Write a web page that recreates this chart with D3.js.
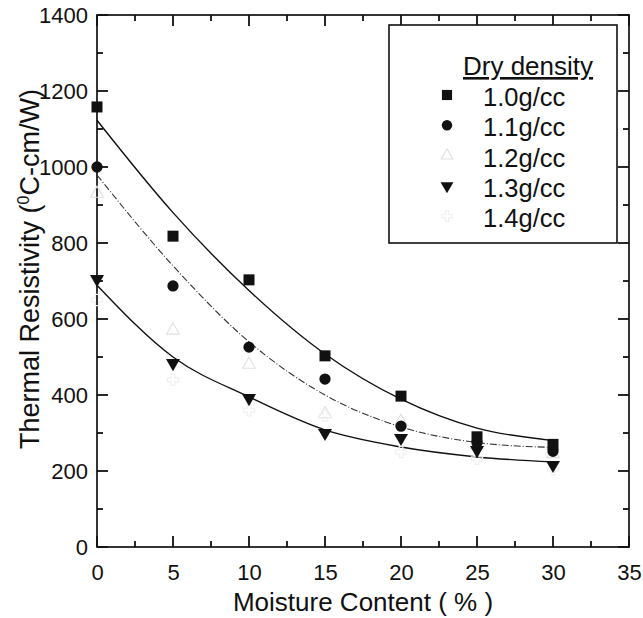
<!DOCTYPE html>
<html>
<head>
<meta charset="utf-8">
<script src="https://cdn.jsdelivr.net/npm/d3@7"></script>
<style>
  body { margin: 0; background: #fff; }
  svg { display: block; font-family: "Liberation Sans", Arial, sans-serif; }
</style>
</head>
<body>
<div id="chart"></div>
<script>
// moisture content (%) where samples were measured
const moisture = [0, 5, 10, 15, 20, 25, 30];

// measured thermal resistivity (degC-cm/W) per dry density
const rho10 = [1158, 818, 703, 503, 397, 290, 270];
const rho11 = [1000, 687, 526, 442, 318, 275, 252];
const rho12 = [930, 570, 480, 350, 330, 268, 245];
const rho13 = [705, 484, 392, 300, 287, 255, 216];
const rho14 = [650, 440, 360, 345, 250, 232, 205];

// fitted curves at the same moisture values
const fit10 = [1123, 880, 675, 508, 389, 313, 280];
const fit11 = [979, 740, 540, 400, 316, 275, 262];
const fit13 = [689, 500, 395, 308, 263, 237, 224];

const densityLabels = ['1.0g/cc', '1.1g/cc', '1.2g/cc', '1.3g/cc', '1.4g/cc'];
const xTicks = [0, 5, 10, 15, 20, 25, 30, 35];
const xMinor = [2.5, 7.5, 12.5, 17.5, 22.5, 27.5, 32.5];
const yTicks = [0, 200, 400, 600, 800, 1000, 1200, 1400];
const yMinor = [100, 300, 500, 700, 900, 1100, 1300];

const width = 643, height = 618;
const margin = { top: 15, right: 14, bottom: 71, left: 97 };
const innerW = width - margin.left - margin.right;
const innerH = height - margin.top - margin.bottom;

const svg = d3.select('#chart').append('svg')
    .attr('width', width)
    .attr('height', height);

const plot = svg.append('g')
    .attr('transform', `translate(${margin.left},${margin.top})`);

const x = d3.scaleLinear().domain([0, 35]).range([0, innerW]);
const y = d3.scaleLinear().domain([0, 1400]).range([innerH, 0]);

// frame
plot.append('rect')
    .attr('width', innerW).attr('height', innerH)
    .attr('fill', 'none').attr('stroke', '#111').attr('stroke-width', 1.7);

// tick labels through d3 axes (tick lines are drawn below)
plot.append('g').attr('transform', `translate(0,${innerH})`)
    .call(d3.axisBottom(x).tickValues(xTicks).tickSize(0).tickPadding(17))
    .call(g => g.select('.domain').remove())
    .call(g => g.selectAll('text').attr('fill', '#111').style('font-size', '22px'));
plot.append('g')
    .call(d3.axisLeft(y).tickValues(yTicks).tickSize(0).tickPadding(9).tickFormat(d3.format('d')))
    .call(g => g.select('.domain').remove())
    .call(g => g.selectAll('text').attr('fill', '#111').style('font-size', '22px'));

// inward ticks on all four sides
const ticks = plot.append('g').attr('stroke', '#111').attr('stroke-width', 1.8);
function xTickLines(vals, len) {
    ticks.append('g').selectAll('line').data(vals).enter().append('line')
        .attr('x1', d => x(d)).attr('x2', d => x(d))
        .attr('y1', innerH).attr('y2', innerH - len);
    ticks.append('g').selectAll('line').data(vals).enter().append('line')
        .attr('x1', d => x(d)).attr('x2', d => x(d))
        .attr('y1', 0).attr('y2', len);
}
function yTickLines(vals, len) {
    ticks.append('g').selectAll('line').data(vals).enter().append('line')
        .attr('y1', d => y(d)).attr('y2', d => y(d))
        .attr('x1', 0).attr('x2', len);
    ticks.append('g').selectAll('line').data(vals).enter().append('line')
        .attr('y1', d => y(d)).attr('y2', d => y(d))
        .attr('x1', innerW).attr('x2', innerW - len);
}
xTickLines(xTicks, 11);
xTickLines(xMinor, 6);
yTickLines(yTicks, 11);
yTickLines(yMinor, 6);

// fitted curves
const line = d3.line()
    .x((d, i) => x(moisture[i]))
    .y(d => y(d))
    .curve(d3.curveMonotoneX);

const fits = [
    { values: fit10, dash: null, color: '#111', w: 1.4 },
    { values: fit11, dash: '7,2,1,2', color: '#333', w: 1.1 },
    { values: fit13, dash: null, color: '#111', w: 1.4 }
];
plot.selectAll('.fit').data(fits).enter().append('path')
    .attr('class', 'fit')
    .attr('fill', 'none')
    .attr('stroke', d => d.color)
    .attr('stroke-width', d => d.w)
    .attr('stroke-dasharray', d => d.dash)
    .attr('d', d => line(d.values));

// series definitions (marker style only)
const series = [
    { label: densityLabels[0], values: rho10, sym: d3.symbolSquare, size: 121, rot: 0, fill: '#111', stroke: 'none' },
    { label: densityLabels[1], values: rho11, sym: d3.symbolCircle, size: 100, rot: 0, fill: '#111', stroke: 'none' },
    { label: densityLabels[2], values: rho12, sym: d3.symbolTriangle, size: 70, rot: 0, fill: 'none', stroke: '#e2e2e2' },
    { label: densityLabels[3], values: rho13, sym: d3.symbolTriangle, size: 85, rot: 180, fill: '#111', stroke: 'none' },
    { label: densityLabels[4], values: rho14, sym: d3.symbolCross, size: 70, rot: 0, fill: 'none', stroke: '#f0f0f0' }
];

// faint ones first so black ones sit on top
const drawOrder = [series[2], series[4], series[3], series[1], series[0]];
drawOrder.forEach(s => {
    plot.append('g').selectAll('path')
        .data(s.values)
        .enter().append('path')
        .attr('d', d3.symbol().type(s.sym).size(s.size))
        .attr('transform', (d, i) => `translate(${x(moisture[i])},${y(d)}) rotate(${s.rot})`)
        .attr('fill', s.fill)
        .attr('stroke', s.stroke)
        .attr('stroke-width', 1.2);
});

// axis titles
svg.append('text')
    .attr('x', margin.left + innerW / 2)
    .attr('y', 611)
    .attr('text-anchor', 'middle')
    .attr('fill', '#111')
    .style('font-size', '26px')
    .text('Moisture Content ( % )');

const yt = svg.append('text')
    .attr('transform', `translate(39, ${margin.top + 254}) rotate(-90)`)
    .attr('text-anchor', 'middle')
    .attr('fill', '#111')
    .style('font-size', '27px');
yt.append('tspan').text('Thermal Resistivity (');
yt.append('tspan').attr('dy', '-10').style('font-size', '16px').text('0');
yt.append('tspan').attr('dy', '10').text('C-cm/W)');

// legend
const legend = svg.append('g');
legend.append('rect')
    .attr('x', 389).attr('y', 25)
    .attr('width', 228).attr('height', 218)
    .attr('fill', '#fff').attr('stroke', '#111').attr('stroke-width', 1.6);

legend.append('text')
    .attr('x', 463).attr('y', 75)
    .attr('fill', '#111')
    .style('font-size', '26px')
    .style('text-decoration', 'underline')
    .text('Dry density');

const items = legend.selectAll('.item')
    .data(series)
    .enter().append('g')
    .attr('class', 'item')
    .attr('transform', (d, i) => `translate(0, ${106 + i * 30.3})`);

items.append('path')
    .attr('d', d => d3.symbol().type(d.sym).size(d.size * 0.85)())
    .attr('transform', d => `translate(447,-11) rotate(${d.rot})`)
    .attr('fill', d => d.fill)
    .attr('stroke', d => d.stroke)
    .attr('stroke-width', 1.2);

items.append('text')
    .attr('x', 483).attr('y', 0)
    .attr('fill', '#111')
    .style('font-size', '25.5px')
    .text(d => d.label);
</script>
</body>
</html>
